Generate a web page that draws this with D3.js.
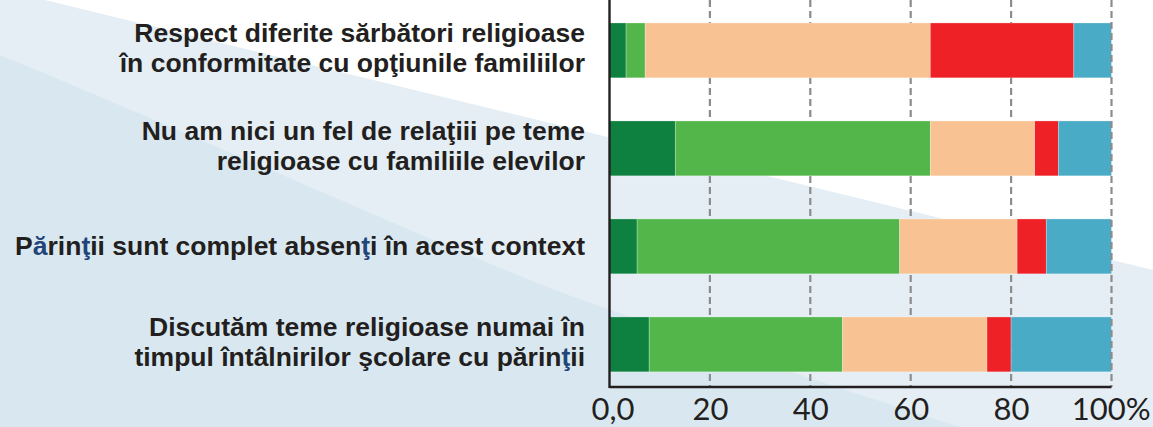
<!DOCTYPE html>
<html>
<head>
<meta charset="utf-8">
<script src="https://cdn.jsdelivr.net/npm/d3@7"></script>
<style>
  html, body { margin: 0; padding: 0; background: #ffffff; }
  svg { display: block; }
</style>
</head>
<body>
<svg id="chart" width="1153" height="427"></svg>
<script>
// ---- data ----
const categories = [
  ["Respect diferite sărbători religioase", "în conformitate cu opţiunile familiilor"],
  ["Nu am nici un fel de relaţiii pe teme", "religioase cu familiile elevilor"],
  ["Părinţii sunt complet absenţi în acest context"],
  ["Discutăm teme religioase numai în", "timpul întâlnirilor şcolare cu părinţii"]
];
const series1 = [3.3, 13.1, 5.5, 7.9];
const series2 = [3.8, 50.8, 52.3, 38.5];
const series3 = [56.8, 20.8, 23.4, 28.8];
const series4 = [28.6, 4.7, 5.8, 4.8];
const series5 = [7.5, 10.6, 13.0, 20.0];
const tickValues = [0, 20, 40, 60, 80, 100];
const tickLabels = ["0,0", "20", "40", "60", "80", "100%"];
const seriesColors = ["#0e8040", "#52b64a", "#f9c293", "#ee2126", "#4aabc6"];

// ---- build ----
const svg = d3.select("#chart");
const W = 1153, H = 427;

// background bands
svg.append("rect").attr("width", W).attr("height", H).attr("fill", "#ffffff");
svg.append("path")
  .attr("d", "M0,0 L45,0 L1153,270 L1153,427 L0,427 Z")
  .attr("fill", "#e4eef4");
svg.append("path")
  .attr("d", "M0,55 C200,137 420,237 560,292 C700,342 850,392 960,427 L0,427 Z")
  .attr("fill", "#d9e8f0");

const x = d3.scaleLinear().domain([0, 100]).range([609.5, 1111.5]);
const keys = ["s1", "s2", "s3", "s4", "s5"];
const rows = categories.map((c, i) => ({
  idx: i, s1: series1[i], s2: series2[i], s3: series3[i], s4: series4[i], s5: series5[i]
}));
const y = d3.scaleBand().domain(rows.map(d => d.idx)).range([1.4, 393.4])
  .paddingInner(0.44).paddingOuter(0.22);
const axisY = 387;

// gridlines (behind bars)
svg.append("g").selectAll("line")
  .data(tickValues.filter(v => v > 0 && v < 100))
  .join("line")
  .attr("x1", d => x(d)).attr("x2", d => x(d))
  .attr("y1", 0).attr("y2", axisY)
  .attr("stroke", "#8c8c8c").attr("stroke-width", 2.2)
  .attr("stroke-dasharray", "7,4");

// bars
const stack = d3.stack().keys(keys)(rows);
const color = d3.scaleOrdinal().domain(keys).range(seriesColors);
svg.append("g").selectAll("g")
  .data(stack).join("g")
  .attr("fill", d => color(d.key))
  .selectAll("rect")
  .data(d => d).join("rect")
  .attr("x", d => x(d[0]))
  .attr("width", d => x(d[1]) - x(d[0]))
  .attr("y", d => y(d.data.idx))
  .attr("height", y.bandwidth())
  .attr("stroke", "rgba(255,255,255,0.45)")
  .attr("stroke-width", 0.6);

// 100% gridline over the bar ends
svg.append("line")
  .attr("x1", x(100)).attr("x2", x(100))
  .attr("y1", 0).attr("y2", axisY)
  .attr("stroke", "#8c8c8c").attr("stroke-width", 2.2)
  .attr("stroke-dasharray", "7,4");

// axes lines
svg.append("line")
  .attr("x1", x(0)).attr("x2", x(0)).attr("y1", 0).attr("y2", axisY + 1)
  .attr("stroke", "#231f20").attr("stroke-width", 2.4);
const xAxis = d3.axisBottom(x).tickValues(tickValues)
  .tickFormat((d, i) => tickLabels[i]).tickSize(0).tickPadding(0);
const gx = svg.append("g").attr("transform", `translate(0,${axisY})`).call(xAxis);
gx.select(".domain").attr("stroke", "#231f20").attr("stroke-width", 2.6)
  .attr("d", `M${x(0)},0H${x(100)}`);
gx.selectAll(".tick text")
  .attr("font-family", "Lato, 'Open Sans', sans-serif")
  .attr("font-size", 31)
  .attr("fill", "#231f20")
  .attr("y", 33).attr("dy", 0)
  .attr("text-anchor", (d, i) => i === tickValues.length - 1 ? "end" : "middle")
  .attr("dx", (d, i) => i === 0 ? 3 : (i === tickValues.length - 1 ? 38.5 : 0));

// category labels
const labelG = svg.append("g");
const accentColor = "#21457a";
rows.forEach((r, i) => {
  const lines = categories[i];
  const c = y(r.idx) + y.bandwidth() / 2;
  const base = lines.length === 1 ? [c + 9] : [c - 8, c + 22];
  lines.forEach((ln, j) => {
    const t = labelG.append("text")
      .attr("x", 585).attr("y", base[j])
      .attr("text-anchor", "end")
      .attr("font-family", "'Liberation Sans', Arial, sans-serif")
      .attr("font-weight", "bold")
      .attr("font-size", 26.5)
      .attr("fill", "#231f20");
    if (i >= 2) {
      // some diacritics are printed in navy in the original
      const parts = ln.split(/(ţ|Pă)/).filter(p => p.length);
      parts.forEach(p => {
        if (p === "Pă") {
          t.append("tspan").text("P");
          t.append("tspan").attr("fill", accentColor).text("ă");
        } else {
          t.append("tspan").attr("fill", p === "ţ" ? accentColor : null).text(p);
        }
      });
    } else {
      t.text(ln);
    }
  });
});
</script>
</body>
</html>
